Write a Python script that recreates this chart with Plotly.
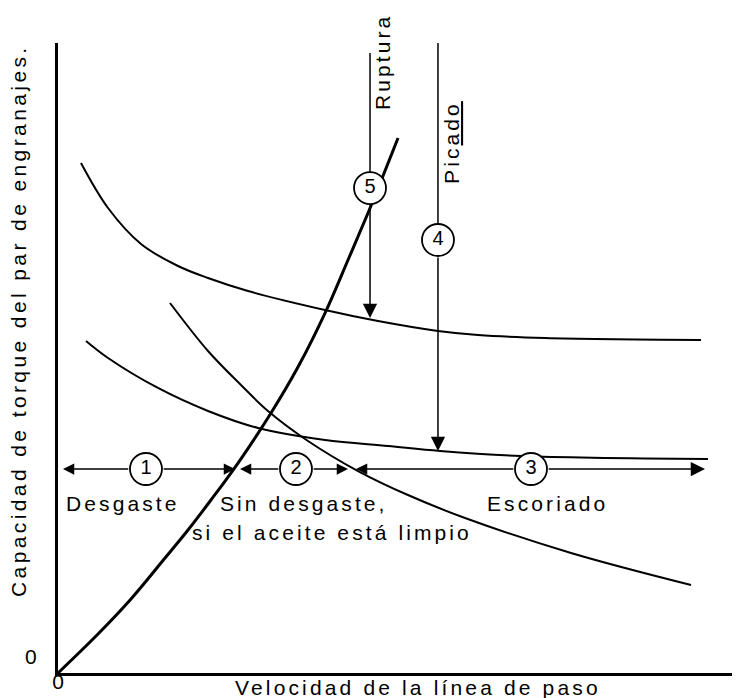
import plotly.graph_objects as go

# ---- schematic data (x: pitch-line velocity, y: torque capacity; arbitrary 0-100 units) ----
upper_x = [3.33, 7.25, 12.03, 17.39, 21.74, 27.54, 38.70, 46.38, 55.07, 60.87, 70.58, 93.19]
upper_y = [80.95, 73.81, 68.10, 64.60, 62.70, 60.63, 57.62, 55.87, 54.29, 53.65, 53.17, 52.86]

middle_x = [4.06, 7.25, 14.49, 21.74, 28.99, 38.70, 47.83, 55.36, 67.10, 94.20]
middle_y = [52.70, 50.00, 45.24, 41.59, 38.89, 36.98, 36.03, 35.24, 34.44, 33.97]

scoring_x = [16.23, 21.74, 26.52, 30.43, 36.23, 43.48, 50.72, 58.99, 74.35, 91.74]
scoring_y = [58.73, 51.11, 45.71, 41.59, 36.83, 32.06, 28.25, 24.60, 19.05, 13.97]

wear_x = [0.0, 5.80, 10.58, 15.51, 18.84, 22.17, 26.09, 30.87, 34.78, 38.70, 42.03, 44.93, 46.81, 49.28]
wear_y = [0.0, 6.19, 11.75, 18.25, 22.70, 27.46, 33.33, 41.27, 48.57, 57.14, 65.56, 73.02, 78.10, 84.92]

# circled region numbers
circle_labels = ["1", "2", "3", "4", "5"]
circle_x = [12.75, 34.49, 68.55, 55.07, 45.22]
circle_y = [32.38, 32.38, 32.38, 68.73, 76.98]

# regime boundaries on the horizontal line (arrow tips)
band_y = 32.38
band_tips = [0.72, 25.65, 26.38, 42.03, 43.19, 93.77]

# vertical limit arrows: (x, top, tip)
rupt_x, rupt_top, rupt_tip = 45.22, 98.41, 56.35
pic_x, pic_top, pic_tip = 55.07, 100.0, 35.24

tick_vals = [0]
tick_text = ["0"]

FONT = "Liberation Sans, Arial, Helvetica, sans-serif"


def sp(t, s=3.1):
    return f'<span style="letter-spacing:{s}px">{t}</span>'


rx = 2.35   # circle radius in x data units
ry = 2.55   # circle radius in y data units

fig = go.Figure()

for xs, ys, w in [(upper_x, upper_y, 2), (middle_x, middle_y, 2),
                  (scoring_x, scoring_y, 2), (wear_x, wear_y, 3)]:
    fig.add_trace(go.Scatter(x=xs, y=ys, mode="lines",
                             line=dict(color="black", width=w, shape="spline", smoothing=1.0),
                             hoverinfo="skip", showlegend=False))

# vertical plain segments (top to circle)
fig.add_trace(go.Scatter(x=[rupt_x, rupt_x], y=[rupt_top, circle_y[4] + ry], mode="lines",
                         line=dict(color="black", width=1.5), showlegend=False, hoverinfo="skip"))
fig.add_trace(go.Scatter(x=[pic_x, pic_x], y=[pic_top, circle_y[3] + ry], mode="lines",
                         line=dict(color="black", width=1.5), showlegend=False, hoverinfo="skip"))

# circles
fig.add_trace(go.Scatter(x=circle_x, y=circle_y, mode="markers+text", text=circle_labels,
                         textposition="middle center",
                         textfont=dict(family=FONT, size=20, color="black"),
                         marker=dict(size=32, color="white", line=dict(color="black", width=1.8)),
                         showlegend=False, hoverinfo="skip"))

annotations = []


def arrow(x0, y0, x1, y1, size=1.5):
    annotations.append(dict(x=x1, y=y1, ax=x0, ay=y0, xref="x", yref="y", axref="x", ayref="y",
                            showarrow=True, arrowhead=2, arrowsize=size, arrowwidth=1.5,
                            arrowcolor="black", text=""))


# horizontal band arrows
arrow(circle_x[0] - rx, band_y, band_tips[0], band_y)
arrow(circle_x[0] + rx, band_y, band_tips[1], band_y)
arrow(circle_x[1] - rx, band_y, band_tips[2], band_y)
arrow(circle_x[1] + rx, band_y, band_tips[3], band_y)
arrow(circle_x[2] - rx, band_y, band_tips[4], band_y)
arrow(circle_x[2] + rx, band_y, band_tips[5], band_y, size=1.9)
# vertical arrows
arrow(rupt_x, circle_y[4] - ry, rupt_x, rupt_tip, size=1.9)
arrow(pic_x, circle_y[3] - ry, pic_x, pic_tip, size=1.9)


def label(txt, x, y, size=21, angle=0, ref="x", s=3.1):
    annotations.append(dict(x=x, y=y, xref=ref, yref=ref.replace("x", "y") if ref == "x" else ref,
                            text=sp(txt, s), showarrow=False,
                            textangle=angle, font=dict(family=FONT, size=size, color="black"),
                            xanchor="center", yanchor="middle"))


label("Desgaste", 9.42, 26.98)
label("Sin desgaste,", 35.65, 26.98)
label("si el aceite está limpio", 39.71, 22.38)
label("Escoriado", 71.01, 26.98)
label("Ruptura", 46.96, 96.98, angle=-90)
label("Pic<u>ado</u>", 57.10, 84.29, angle=-90)
label("Capacidad de torque del par de engranajes.", -0.058, 0.5603, angle=-90, ref="paper", s=3.4)
label("Velocidad de la línea de paso", 0.5217, -0.0238, ref="paper", s=3.15)

fig.update_layout(
    width=740, height=698,
    margin=dict(l=50, r=0, t=35, b=33),
    paper_bgcolor="white", plot_bgcolor="white",
    annotations=annotations,
    xaxis=dict(range=[0, 100], showgrid=False, zeroline=False, showline=True, linecolor="black",
               linewidth=3, tickvals=tick_vals, ticktext=tick_text, ticks="",
               tickfont=dict(family=FONT, size=21, color="black"), ticklabelshift=0,
               ticklabelstandoff=-12),
    yaxis=dict(range=[0, 100], showgrid=False, zeroline=False, showline=True, linecolor="black",
               linewidth=3, tickvals=tick_vals, ticktext=tick_text, ticks="",
               tickfont=dict(family=FONT, size=21, color="black"), ticklabelshift=-16,
               ticklabelstandoff=14),
)

fig.write_html("out.html")
